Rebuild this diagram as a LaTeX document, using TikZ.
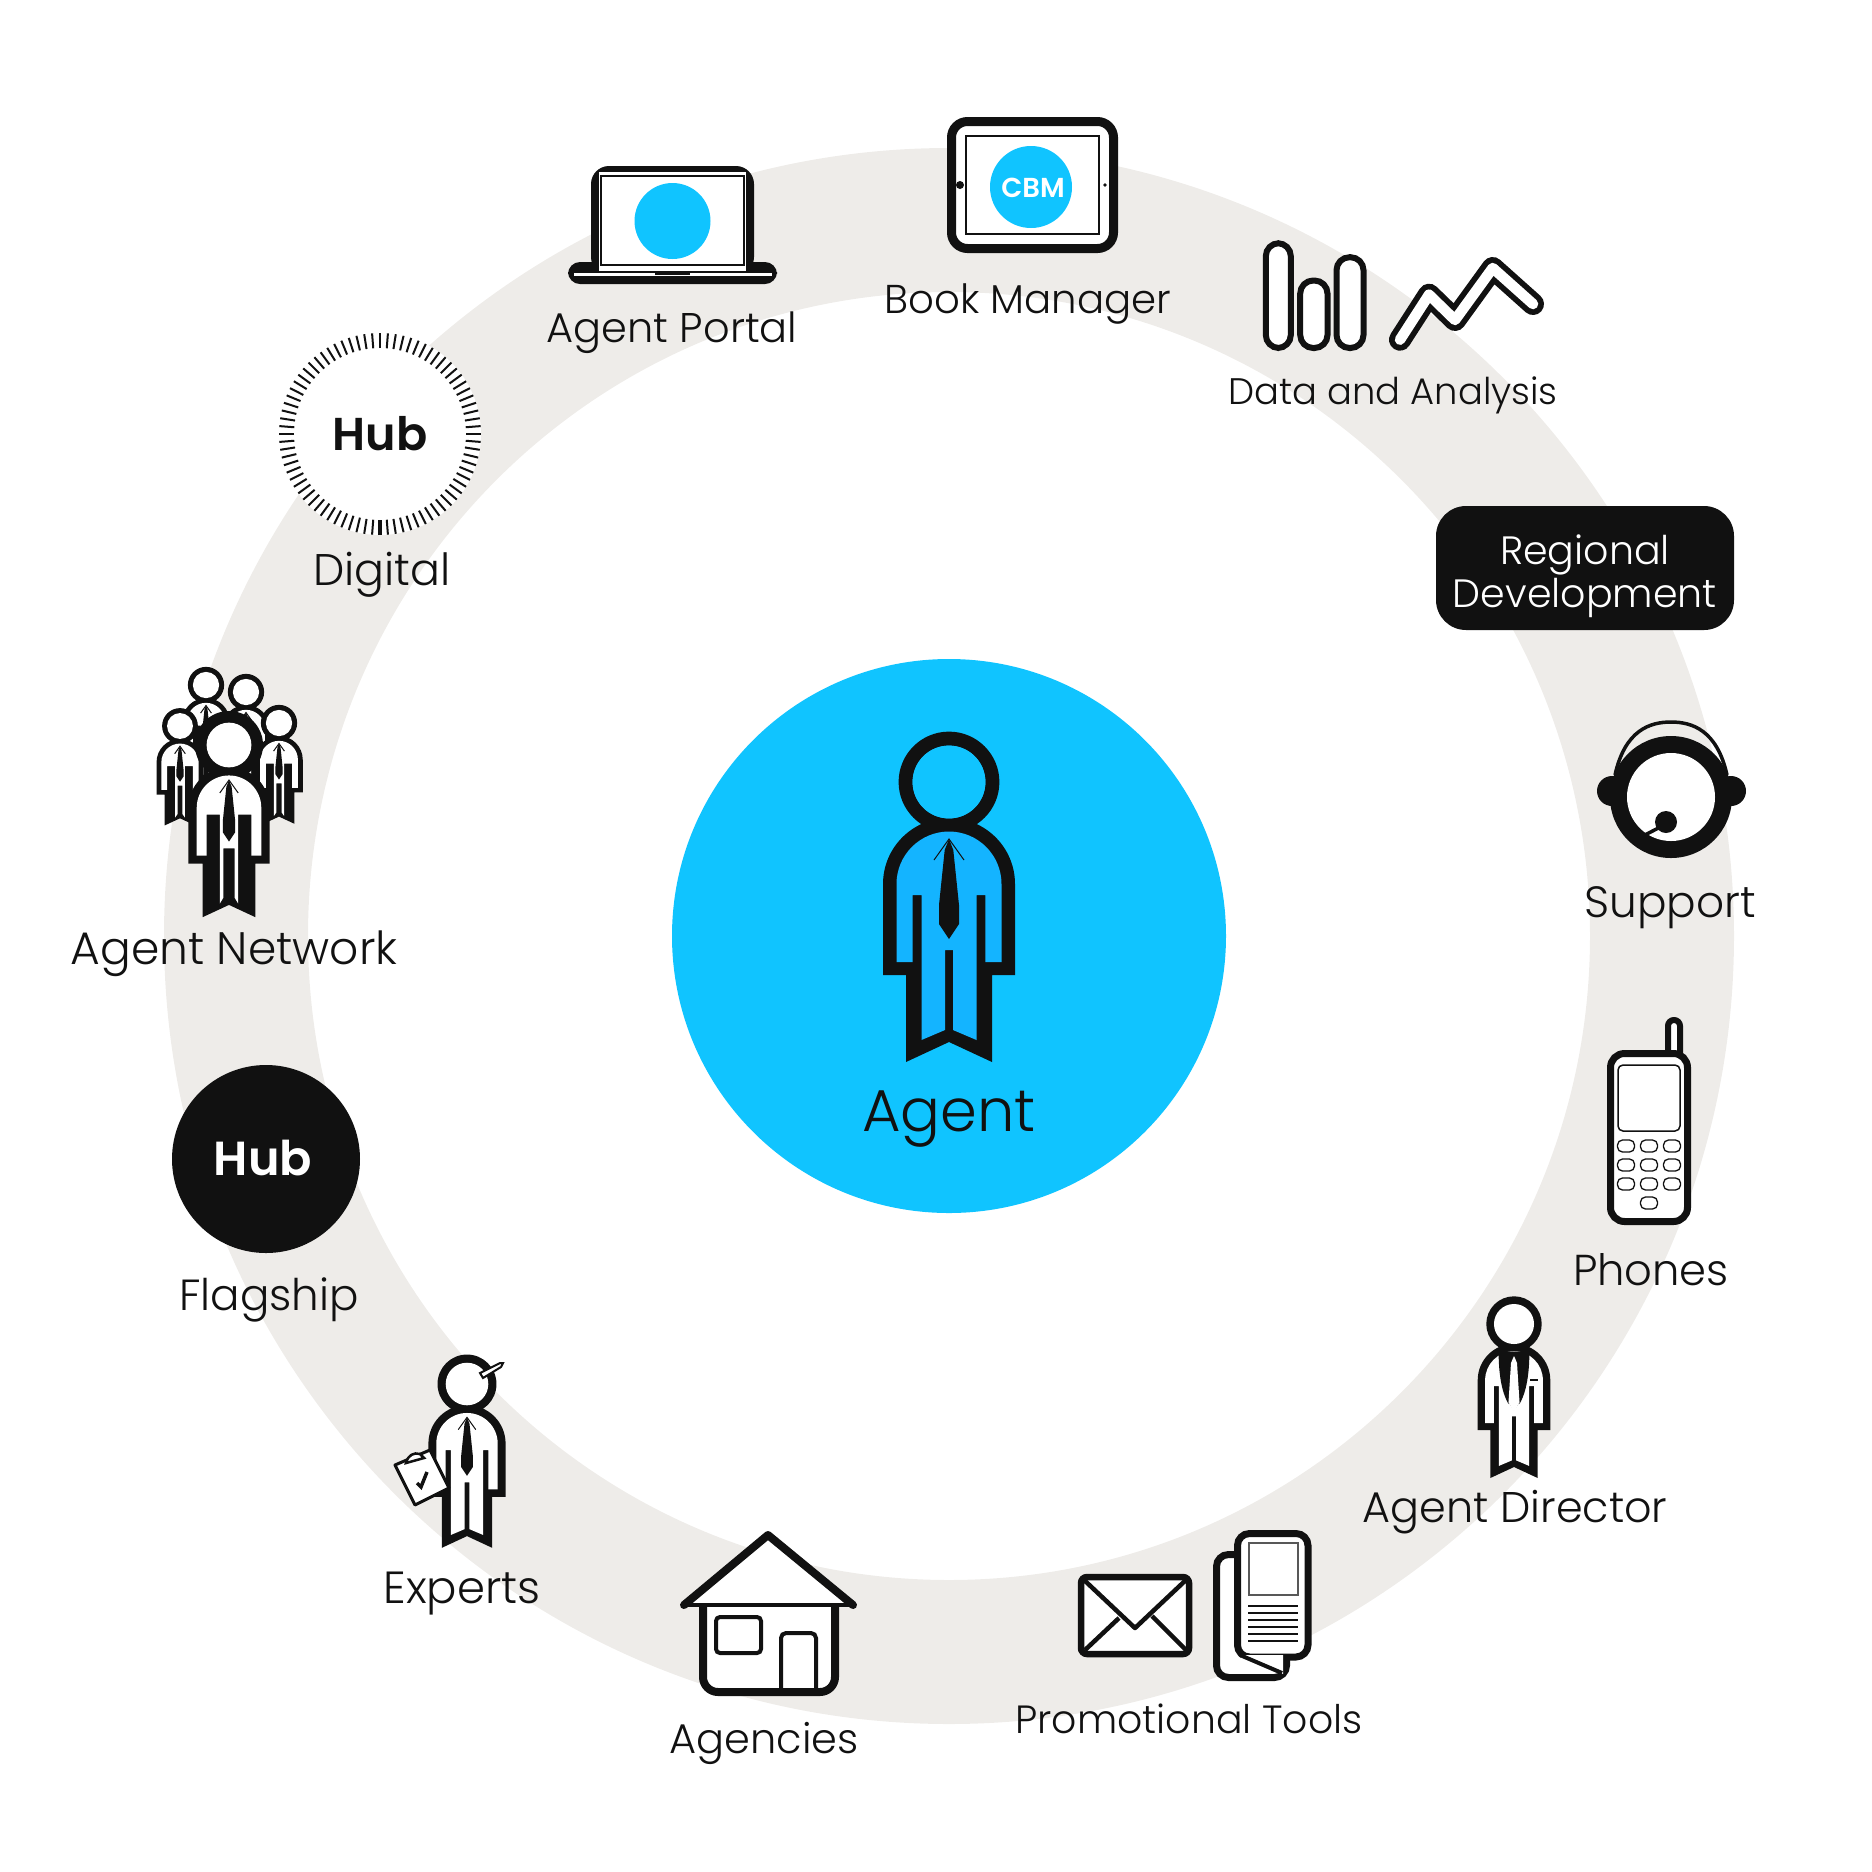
\documentclass[tikz,border=0pt]{standalone}
\usepackage{fontspec}
\setmainfont{Poppins Light}[BoldFont={Poppins SemiBold}]
\definecolor{ringgrey}{HTML}{EEECE9}
\definecolor{agentblue}{HTML}{10C4FF}
\definecolor{suitblue}{HTML}{14B4FF}
\definecolor{inkblack}{HTML}{111111}
\tikzset{
  labeltext/.style={anchor=base,text=inkblack,font=\fontsize{#1}{13}\selectfont},
  hubtext/.style={anchor=base,font=\fontsize{#1}{15}\selectfont\bfseries},
  % fill colour, half width of the legs, half width of the bar between them
  pics/person/.style n args={3}{code={
    \fill[inkblack] (-66,102) arc[start angle=180,end angle=360,radius=66] -- (66,193) -- (43,193)
      -- (43,280) -- (0,260) -- (-43,280) -- (-43,193) -- (-66,193) -- cycle;
    \fill[inkblack] (0,0) circle[radius=50.4];
    \fill[#1] (0,0) circle[radius=36.4];
    \fill[#1] (-52.5,102) arc[start angle=180,end angle=360,radius=52.5] -- (52.5,180) -- (36.4,180)
      -- (36.4,113) -- (#2,113) -- (#2,258) -- (#3,248) -- (#3,168) -- (-#3,168) -- (-#3,248)
      -- (-#2,258) -- (-#2,113) -- (-36.4,113) -- (-36.4,180) -- (-52.5,180) -- cycle;
    \fill[inkblack] (0,57) -- (-4.3,68) -- (-10,123) -- (-10,142) -- (0,157) -- (10,142) -- (10,123) -- (4.3,68) -- cycle;
    \draw[inkblack,line width=.1mm] (-15,78) -- (0,57) -- (15,78);
  }},
}
\begin{document}
\begin{tikzpicture}[x=0.01cm,y=-0.01cm]
\useasboundingbox (0,0) rectangle (1872,1872);

%------------------------------------------------
% RING AND CENTRE
%------------------------------------------------
\fill[ringgrey,even odd rule] (949,936) ellipse[x radius=785,y radius=788] (949,936) ellipse[x radius=641,y radius=644];
\fill[agentblue] (949,936) circle[radius=277];
\pic at (949,782) {person={suitblue}{27.5}{4}};
\fill[agentblue] (949,782) circle[radius=36.4];
\node[labeltext=16.8] (agent) at (949,1131) {Agent};

%------------------------------------------------
% TOP: Laptop and tablet
%------------------------------------------------
% Laptop
\fill[inkblack,rounded corners=1.8mm] (591,166) rectangle (754,275);
\fill[inkblack,rounded corners=1.2mm] (568,262) rectangle (777,284);
\fill[white] (599,172) rectangle (746,271);
\fill[white] (574,272.7) rectangle (772,276);
\fill[inkblack] (655,272) rectangle (690,275);
\draw[inkblack,line width=.2mm] (601,176) rectangle (744,265);
\fill[agentblue] (672.5,221) circle[radius=38];
\node[labeltext=11.8] (portal) at (672,342) {Agent Portal};

% Tablet
\draw[inkblack,fill=white,line width=.9mm,rounded corners=1.6mm] (951.5,121.5) rectangle (1113.5,248.5);
\draw[inkblack,line width=.18mm] (966,136) rectangle (1099,234);
\fill[agentblue] (1031,187) circle[radius=41];
\fill[inkblack] (960,185) circle[radius=4];
\fill[inkblack] (1105,185) circle[radius=1.8];
\node[anchor=base,text=white,font=\fontsize{7.8}{10}\selectfont\bfseries] (cbm) at (1033,197) {CBM};
\node[labeltext=11.45] (book) at (1028,313) {Book Manager};

%------------------------------------------------
% UPPER RIGHT: Charts and regional box
%------------------------------------------------
\foreach \xa/\xb/\ya in {1265.8/1290.8/243.2,1300.2/1327.5/280.5,1336.5/1363.5/257.2}
  \draw[inkblack,fill=white,line width=.6mm,rounded corners=1.3mm] (\xa,\ya) rectangle (\xb,348);

% Zigzag
\draw[inkblack,line width=2.2mm,line cap=round,line join=round]
  (1400,339.7) -- (1429,294.7) -- (1455,320) -- (1492.7,268) -- (1533,304);
\draw[white,line width=1.05mm,line cap=round,line join=round]
  (1400,339.7) -- (1429,294.7) -- (1455,320) -- (1492.7,268) -- (1533,304);
\node[labeltext=10.5] (data) at (1393,404) {Data and Analysis};

\fill[inkblack,rounded corners=3mm] (1436,506) rectangle (1734,630);
\node[labeltext=11.25,text=white] (regional) at (1585,564) {Regional};
\node[labeltext=11.25,text=white] (development) at (1585,607) {Development};

%------------------------------------------------
% RIGHT: Headset and phone
%------------------------------------------------
\draw[inkblack,line width=.35mm] (1615,775) .. controls (1625,730) and (1650,722) .. (1671,722)
  .. controls (1692,722) and (1717,730) .. (1727,775);
\fill[inkblack] (1612,791) circle[radius=15];
\fill[inkblack] (1731,791) circle[radius=15];
\fill[inkblack] (1671,797) circle[radius=61];
\fill[white] (1671,797) circle[radius=44];
\fill[inkblack] (1666,822) circle[radius=11];
\draw[inkblack,line width=.35mm] (1666,824) -- (1643,836);
\node[labeltext=12.45] (support) at (1670,917) {Support};

% Phone
\draw[inkblack,fill=white,line width=.6mm,rounded corners=.59mm] (1668,1056) -- (1668,1020) -- (1680,1020) -- (1680,1056);
\draw[inkblack,fill=white,line width=.7mm,rounded corners=1.4mm] (1610.5,1053.5) rectangle (1687.5,1221.5);
\draw[inkblack,line width=.15mm,rounded corners=.5mm] (1618,1065) rectangle (1680,1131);
\foreach \y in {1146,1165,1184}
  \foreach \x in {1626,1649,1672}
    \draw[inkblack,line width=.13mm,rounded corners=.5mm] (\x-8.5,\y-6) rectangle ++(17,12);
\draw[inkblack,line width=.13mm,rounded corners=.5mm] (1640.5,1197) rectangle ++(17,12);
\node[labeltext=12.3] (phones) at (1651,1285) {Phones};

%------------------------------------------------
% LOWER RIGHT: Director and promotional items
%------------------------------------------------
\pic[scale=.55] at (1514,1324) {person={white}{27.5}{4}};
\fill[inkblack] (1498.6,1351.5) .. controls (1498.6,1384) and (1505,1398) .. (1508.5,1404) -- (1512,1360) -- (1514,1356)
  -- (1516,1360) -- (1519.5,1404) .. controls (1523,1398) and (1529.4,1384) .. (1529.4,1351.5) -- cycle;
\fill[white] (1514,1356) -- (1511,1363) -- (1508.5,1402) -- (1514,1412) -- (1519.5,1402) -- (1517,1363) -- cycle;
\draw[inkblack,line width=.2mm] (1530,1380) -- (1538,1380);
\node[labeltext=12.2] (director) at (1515,1522) {Agent Director};

% Envelope
\draw[inkblack,fill=white,line width=.65mm,rounded corners=.6mm] (1081,1577) rectangle (1189,1654);
\draw[inkblack,line width=.45mm,line join=round] (1083,1579) -- (1135,1628) -- (1187,1579);
\draw[inkblack,line width=.45mm] (1085,1650) -- (1119,1618);
\draw[inkblack,line width=.45mm] (1186,1650) -- (1152,1616);

% Sheets
\draw[inkblack,fill=white,line width=.7mm,rounded corners=1.2mm] (1216.5,1554.5) rectangle (1286.5,1677.5);
\draw[inkblack,fill=white,line width=.7mm,rounded corners=1.2mm] (1237.5,1533.5) rectangle (1308,1657);
\fill[white] (1240.5,1657) rectangle (1283,1663);
\fill[white] (1242,1655) -- (1283,1674) -- (1283,1655) -- cycle;
\draw[inkblack,line width=.4mm] (1240,1655) -- (1282,1673);
\draw[inkblack!70,line width=.18mm] (1249,1543) rectangle (1298,1595);
\foreach \y in {1606,1613,1620,1627,1634,1641}
  \draw[inkblack,line width=.17mm] (1248,\y) -- (1298,\y);
\node[labeltext=11.2] (promo) at (1189,1733) {Promotional Tools};

%------------------------------------------------
% BOTTOM: House
%------------------------------------------------
\draw[inkblack,fill=white,line width=.8mm,rounded corners=1.5mm] (703,1600) -- (703,1692) -- (835,1692) -- (835,1600);
\fill[white] (768,1535) -- (853,1605) -- (684,1605) -- cycle;
\draw[inkblack,line width=.4mm] (684,1605) -- (853,1605);
\draw[inkblack,line width=.8mm,line cap=round,line join=round] (684,1605) -- (768,1535) -- (853,1605);
\draw[inkblack,line width=.4mm,rounded corners=.4mm] (716,1617) rectangle (761,1653);
\draw[inkblack,line width=.4mm,rounded corners=.5mm] (781,1690) -- (781,1633) -- (816,1633) -- (816,1690);
\node[labeltext=11.8] (agencies) at (764,1753) {Agencies};

%------------------------------------------------
% LOWER LEFT: Experts and flagship
%------------------------------------------------
\pic[scale=.585] at (467,1384) {person={white}{27.5}{4}};
\draw[inkblack,fill=white,line width=.3mm,line join=round] (395,1465) -- (430,1450) -- (449,1488) -- (415,1505) -- cycle;
\draw[inkblack,fill=white,line width=.25mm] (406,1463) .. controls (408,1455) and (414,1452) .. (420,1454) -- (424,1458) -- cycle;
\draw[inkblack,line width=.35mm] (417,1483) -- (421,1487) -- (427,1472);
\draw[inkblack,fill=white,line width=.2mm] (480,1373) -- (500,1363) -- (503,1363) -- (501,1367) -- (483,1378) -- cycle;
\node[labeltext=12.8] (experts) at (462,1603) {Experts};

\fill[inkblack] (266,1159) circle[radius=94];
\node[hubtext=13.6,text=white] (flagshiphub) at (263,1175) {Hub};
\node[labeltext=12.4] (flagship) at (269,1310) {Flagship};

%------------------------------------------------
% LEFT: Agent network and digital hub
%------------------------------------------------
\pic[scale=.36] at (206,685) {person={white}{14}{7}};
\pic[scale=.36] at (246,692) {person={white}{14}{7}};
\pic[scale=.355] at (180,726) {person={white}{14}{7}};
\pic[scale=.36] at (279,723) {person={white}{14}{7}};
\fill[inkblack] (229,745) circle[radius=34];
\pic[scale=.615] at (229,745) {person={white}{15}{9}};
\node[labeltext=12.95] (network) at (234,964) {Agent Network};

\fill[white] (380,434) circle[radius=101];
\foreach \a in {0,4.5,...,355.5}
  \draw[inkblack,line width=.2mm] (380,434) ++(\a:86) -- ++(\a:15);
\draw[inkblack,line width=.45mm] (380,535) -- (380,520);
\node[hubtext=13.1,text=inkblack] (digitalhub) at (380,450) {Hub};
\node[labeltext=12.6] (digital) at (382,585) {Digital};

\end{tikzpicture}
\end{document}
